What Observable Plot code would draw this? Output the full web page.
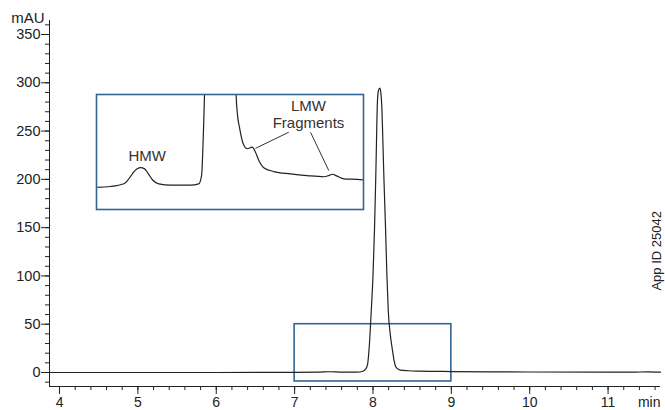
<!DOCTYPE html>
<html>
<head>
<meta charset="utf-8">
<script src="https://cdn.jsdelivr.net/npm/d3@7"></script>
<script src="https://cdn.jsdelivr.net/npm/@observablehq/plot@0.6"></script>
<style>
  body { margin: 0; background: #fff; }
  #chart { position: relative; width: 665px; height: 410px; }
  #chart svg { overflow: visible; }
</style>
</head>
<body>
<div id="chart"></div>
<script>
// ---- Main chromatogram (time in min, signal in mAU) ----
const mainTime   = [3.872, 5.0, 6.0, 7.0, 7.3, 7.45, 7.6, 7.8, 7.863, 7.90, 7.93, 7.955, 7.978, 8.00, 8.02, 8.035, 8.045, 8.054, 8.07, 8.088, 8.10, 8.113, 8.126, 8.14, 8.16, 8.178, 8.195, 8.22, 8.245, 8.27, 8.29, 8.32, 8.35, 8.45, 8.6, 9.0, 9.5, 10.0, 11.0, 11.35, 11.5, 11.669];
const mainSignal = [0, 0, 0, 0.1, 0.3, 0.8, 0.3, 0.3, 1.0, 3, 8, 30, 64, 100, 150, 200, 240, 275, 292, 294.5, 290, 275, 240, 200, 150, 100, 64, 40, 25, 12, 6, 3.5, 2.5, 1.8, 1.4, 1.0, 0.7, 0.5, 0.3, 0.4, 0.6, 0.3];

// ---- Inset (zoomed view of 7–9 min) ----
const insetTime   = [7.0, 7.105, 7.205, 7.24, 7.28, 7.305, 7.33, 7.36, 7.385, 7.42, 7.467, 7.554, 7.704, 7.766, 7.787, 7.796, 7.804, 7.809, 7.83, 7.93, 8.03, 8.046, 8.054, 8.073, 8.099, 8.129, 8.166, 8.191, 8.216, 8.253, 8.328, 8.453, 8.578, 8.703, 8.74, 8.766, 8.803, 8.853, 8.953, 9.0];
const insetSignal = [1.6, 2.0, 3.4, 5.8, 9.6, 11.2, 11.8, 11.2, 9.0, 5.4, 3.4, 2.7, 2.7, 3.4, 7.7, 19.9, 37.3, 49.8, 120, 300, 120, 49.8, 40.8, 32.1, 24.3, 21.7, 22.5, 19.9, 15.6, 11.8, 9.8, 8.6, 7.7, 7.1, 7.7, 8.4, 7.4, 6.0, 5.7, 5.4];

// ---- Axes ----
const xDomain = [3.872, 11.669];
const yDomain = [-14.5, 364.5];
const xMajor = [4, 5, 6, 7, 8, 9, 10, 11];
const xMinor = d3.range(40, 117, 2).map(d => d / 10);
const yMajor = [0, 50, 100, 150, 200, 250, 300, 350];
const yMinor = d3.range(-10, 361, 10);
const yUnit = "mAU";
const xUnit = "min";
const appId = "App ID 25042";

// ---- Zoom window and inset placement (main data coordinates) ----
const zoomWindow = [{x1: 7, x2: 9, y1: -9.3, y2: 50}];
const insetBox = {x1: 4.47, x2: 7.88, y1: 169, y2: 288};
const insetXDomain = [7, 9];
const insetYDomain = [-10, 50];
const insetLabels = [
  {t: 7.38, v: 17.8, text: "HMW"},
  {t: 8.588, v: 39.75, text: "LMW\nFragments"}
];
const insetLeaders = [
  {t1: 8.44, v1: 30.3, t2: 8.191, v2: 21.9},
  {t1: 8.603, v1: 30.3, t2: 8.74, v2: 10.3}
];
const appIdPos = [{t: 11.62, v: 126}];

const font = '"Liberation Sans", Arial, Helvetica, sans-serif';
const blue = "#2f6496";
const ink = "#222";

const mainData = mainTime.map((t, i) => ({t, v: mainSignal[i]}));
const insetData = insetTime.map((t, i) => ({t, v: insetSignal[i]}));

const main = Plot.plot({
  width: 665, height: 410,
  marginLeft: 49, marginRight: 5, marginTop: 20, marginBottom: 24,
  x: {domain: xDomain},
  y: {domain: yDomain},
  style: {fontFamily: font, fontSize: "14.5px", color: ink, background: "#fff", overflow: "visible"},
  marks: [
    Plot.axisY(yMajor, {tickSize: 8, tickPadding: 1, label: null}),
    Plot.axisY(yMinor, {tickSize: 4, tickFormat: () => "", label: null}),
    Plot.axisX(xMajor, {tickSize: 8, tickPadding: 3, fontSize: 14, label: null}),
    Plot.axisX(xMinor, {tickSize: 4, tickFormat: () => "", label: null}),
    Plot.ruleX([xDomain[0]], {stroke: ink}),
    Plot.ruleY([yDomain[0]], {stroke: ink}),
    Plot.rect(zoomWindow, {x1: "x1", x2: "x2", y1: "y1", y2: "y2", fill: "none", stroke: blue, strokeWidth: 1.6}),
    Plot.line(mainData, {x: "t", y: "v", curve: "monotone-x", stroke: ink, strokeWidth: 1.2}),
    Plot.text([yUnit], {frameAnchor: "top-left", dx: -5, dy: -2, lineAnchor: "middle", textAnchor: "end", fontSize: 15}),
    Plot.text([xUnit], {frameAnchor: "bottom-right", dy: 11, lineAnchor: "top", textAnchor: "end", fontSize: 14}),
    Plot.text(appIdPos, {x: "t", y: "v", text: () => appId, rotate: -90, fontSize: 13})
  ]
});

const container = document.getElementById("chart");
container.appendChild(main);

const sx = main.scale("x"), sy = main.scale("y");
const ix = sx.apply(insetBox.x1), iy = sy.apply(insetBox.y2);
const iw = sx.apply(insetBox.x2) - ix, ih = sy.apply(insetBox.y1) - iy;

const inset = Plot.plot({
  width: Math.round(iw), height: Math.round(ih),
  margin: 0,
  x: {domain: insetXDomain, axis: null},
  y: {domain: insetYDomain, axis: null},
  style: {fontFamily: font, fontSize: "15px", color: "#333", background: "transparent", overflow: "visible"},
  marks: [
    Plot.line(insetData, {x: "t", y: "v", curve: "monotone-x", clip: true, stroke: ink, strokeWidth: 1.2}),
    Plot.link(insetLeaders, {x1: "t1", y1: "v1", x2: "t2", y2: "v2", stroke: "#333", strokeWidth: 1}),
    Plot.text(insetLabels, {x: "t", y: "v", text: "text", lineHeight: 1.1, fill: "#333"}),
    Plot.frame({stroke: blue, strokeWidth: 1.6})
  ]
});
inset.style.position = "absolute";
inset.style.left = ix + "px";
inset.style.top = iy + "px";
inset.style.overflow = "visible";
inset.style.maxWidth = "none";
container.appendChild(inset);
</script>
</body>
</html>
